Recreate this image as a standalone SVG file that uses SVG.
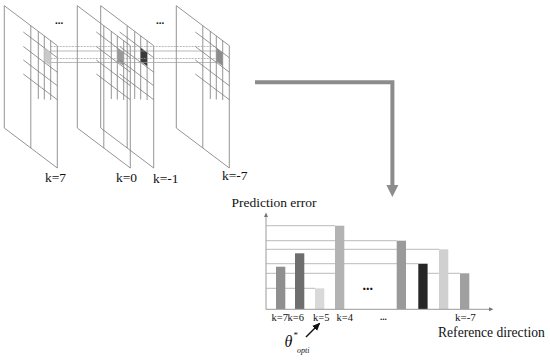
<svg xmlns="http://www.w3.org/2000/svg" xmlns:xlink="http://www.w3.org/1999/xlink" width="550" height="361" viewBox="0 0 550 361">
<style>
  .fr { fill: none; stroke: #7a7a7a; stroke-width: 0.8; }
  text { font-family: 'Liberation Serif', 'DejaVu Serif', serif; fill: #111; }
  .grid { stroke: #a8a8a8; stroke-width: 0.8; }
  .axis { stroke: #9a9a9a; stroke-width: 1; fill: none; }
  .link { stroke: #9c9c9c; stroke-width: 0.7; fill: none; }
  .dash { stroke-dasharray: 2 1; }
</style>
<defs>
  <g id="frame">
    <polygon class="fr" points="0,5.7 53,45.7 53,168 0,128"/>
    <line class="fr" x1="26.5" y1="25.7" x2="26.5" y2="148"/>
    <line class="fr" x1="34" y1="31.4" x2="34" y2="99"/>
    <line class="fr" x1="40" y1="35.9" x2="40" y2="99.5"/>
    <line class="fr" x1="46.4" y1="40.7" x2="46.4" y2="100"/>
    <line class="fr" x1="19" y1="32" x2="53" y2="57.7"/>
    <line class="fr" x1="19" y1="46.5" x2="53" y2="72.2"/>
    <line class="fr" x1="19" y1="60" x2="53" y2="85.7"/>
    <line class="fr" x1="19" y1="74" x2="53" y2="99.7"/>
  </g>
  <polygon id="cell" points="40,47.9 46.4,52.7 46.4,66 40,61.5"/>
  <marker id="ah" markerWidth="8" markerHeight="8" refX="7" refY="4" orient="auto" markerUnits="userSpaceOnUse">
    <path d="M0,0.5 L8,4 L0,7.5 Z" fill="#111"/>
  </marker>
</defs>

<g id="frame-k7">
  <use xlink:href="#frame" href="#frame" x="4.3"/>
  <use xlink:href="#cell" href="#cell" x="4.3" fill="#c9c9c9"/>
  <text font-family="Liberation Serif, serif" x="45" y="181.5" font-size="13.5">k=7</text>
</g>
<g id="frame-k0">
  <use xlink:href="#frame" href="#frame" x="77.3"/>
  <use xlink:href="#cell" href="#cell" x="77.3" fill="#999"/>
  <text font-family="Liberation Serif, serif" x="116" y="182" font-size="13.5">k=0</text>
</g>
<g id="frame-km1">
  <use xlink:href="#frame" href="#frame" x="100.7"/>
  <use xlink:href="#cell" href="#cell" x="100.7" fill="#3a3a3a"/>
  <text font-family="Liberation Serif, serif" x="153" y="182.5" font-size="13.5">k=-1</text>
</g>
<g id="frame-km7">
  <use xlink:href="#frame" href="#frame" x="176.3"/>
  <use xlink:href="#cell" href="#cell" x="176.3" fill="#8c8c8c"/>
  <text font-family="Liberation Serif, serif" x="222" y="180" font-size="13.5">k=-7</text>
</g>
<g id="dots-top">
  <text x="55" y="24" font-size="11" font-weight="bold">...</text>
  <text x="156" y="24" font-size="11" font-weight="bold">...</text>
</g>

<g id="chart">
  <g id="gridlines">
    <line class="grid" x1="266" y1="225.7" x2="335" y2="225.7"/>
    <line class="grid" x1="266" y1="240.7" x2="396.7" y2="240.7"/>
    <line class="grid" x1="266" y1="249.3" x2="439" y2="249.3"/>
    <line class="grid" x1="266" y1="263.7" x2="418.3" y2="263.7"/>
    <line class="grid" x1="266" y1="273.3" x2="335" y2="273.3"/>
    <line class="grid" x1="427.7" y1="273.3" x2="460" y2="273.3"/>
    <line class="grid" x1="266" y1="288.3" x2="315" y2="288.3"/>
  </g>
  <g id="bars">
    <rect x="276" y="266.7" width="9.3" height="42.3" fill="#8f8f8f"/>
    <rect x="295" y="253.3" width="9.3" height="55.7" fill="#6e6e6e"/>
    <rect x="315" y="288.3" width="9.3" height="20.7" fill="#d9d9d9"/>
    <rect x="335" y="225.7" width="9.3" height="83.3" fill="#b3b3b3"/>
    <rect x="396.7" y="240.7" width="9.3" height="68.3" fill="#9a9a9a"/>
    <rect x="418.3" y="263.7" width="9.3" height="45.3" fill="#262626"/>
    <rect x="439" y="249.3" width="9.3" height="59.7" fill="#d0d0d0"/>
    <rect x="460" y="273.3" width="9.3" height="35.7" fill="#a0a0a0"/>
  </g>
  <g id="axes">
    <line class="axis" x1="266" y1="309.3" x2="266" y2="216"/>
    <path d="M264,217 L266,212.5 L268,217 Z" fill="#777"/>
    <line class="axis" x1="266" y1="309.3" x2="489" y2="309.3"/>
    <path d="M489,307.3 L493.5,309.3 L489,311.3 Z" fill="#777"/>
  </g>
  <text x="231.5" y="207" font-size="13.5">Prediction error</text>
  <text x="438" y="337" font-size="13.6">Reference direction</text>
  <text x="271.5" y="321" font-size="10.5">k=7</text>
  <text x="287.5" y="321" font-size="10.5">k=6</text>
  <text x="313" y="321" font-size="10.5">k=5</text>
  <text x="336.5" y="321" font-size="10.5">k=4</text>
  <text x="380" y="320" font-size="9" font-weight="bold">...</text>
  <text x="455" y="321" font-size="11">k=-7</text>
  <text x="362.5" y="290" font-size="14" font-weight="bold">...</text>
  <text x="284.5" y="347" font-size="16" font-style="italic">θ</text>
  <text x="293.5" y="337.5" font-size="9">*</text>
  <text x="297" y="353" font-size="8" font-style="italic">opti</text>
</g>

<g id="connectors">
  <line class="link dash" x1="50.7" y1="46.5" x2="216" y2="46.5"/>
  <line class="link" x1="50.7" y1="51" x2="216" y2="51"/>
  <line class="link dash" x1="50.7" y1="58.5" x2="216" y2="58.5"/>
  <line class="link" x1="50.7" y1="62.5" x2="216" y2="62.5"/>
  <path d="M255,82.3 H392.4 V186" fill="none" stroke="#8c8c8c" stroke-width="4" stroke-linejoin="miter"/>
  <polygon points="386.4,185 398.4,185 392.4,197" fill="#8c8c8c"/>
  <line x1="306" y1="337" x2="319.5" y2="323.5" stroke="#111" stroke-width="1.4" marker-end="url(#ah)"/>
</g>
</svg>
